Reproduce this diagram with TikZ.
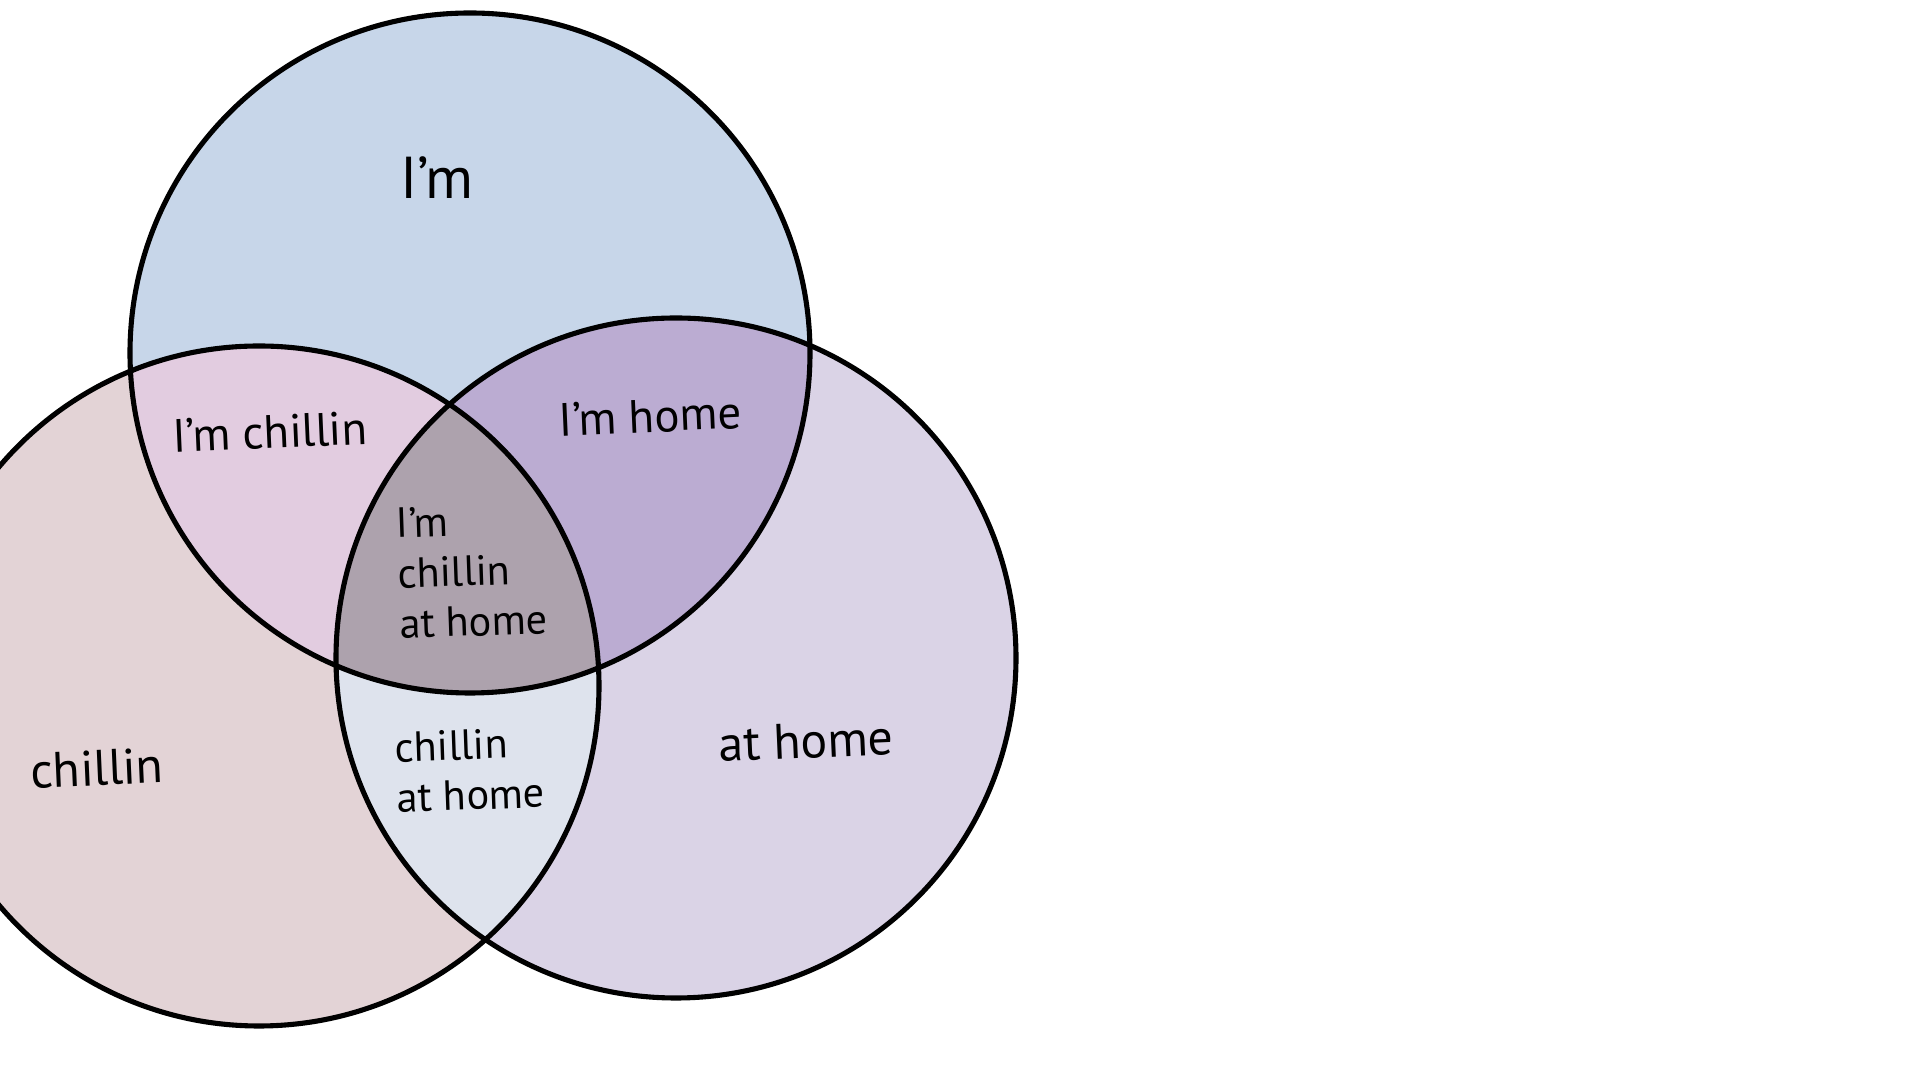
\documentclass[tikz,border=0pt]{standalone}
\usepackage{fontspec}
\setmainfont{PT Sans}
\definecolor{imfill}{HTML}{C7D6E9}
\definecolor{chillfill}{HTML}{E3D3D6}
\definecolor{homefill}{HTML}{DAD3E6}
\definecolor{imchillfill}{HTML}{E2CCE0}
\definecolor{imhomefill}{HTML}{BBACD2}
\definecolor{chillhomefill}{HTML}{DEE3ED}
\definecolor{allfill}{HTML}{ADA2AD}

\begin{document}
\begin{tikzpicture}[x=0.01cm,y=-0.01cm,
set/.style={draw=black,line width=1.45pt},
biglabel/.style={font=\fontsize{14.2}{17}\selectfont,rotate=2.5},
midlabel/.style={font=\fontsize{13.3}{16}\selectfont,rotate=2.5},
smalllabel/.style={font=\fontsize{12}{14.3}\selectfont,align=left,rotate=2}]
\useasboundingbox (0,0) rectangle (1920,1080);
\clip (0,0) rectangle (1920,1080);
\def\imset{(470,353) circle (340)}
\def\chillset{(259,686) circle (340)}
\def\homeset{(676,658) circle (340)}

\fill[imfill] \imset;
\fill[chillfill] \chillset;
\fill[homefill] \homeset;
\begin{scope}
\clip \imset;
\fill[imchillfill] \chillset;
\fill[imhomefill] \homeset;
\end{scope}
\begin{scope}
\clip \chillset;
\fill[chillhomefill] \homeset;
\end{scope}
\begin{scope}
\clip \imset;
\clip \chillset;
\fill[allfill] \homeset;
\end{scope}
\draw[set] \imset;
\draw[set] \chillset;
\draw[set] \homeset;

\node[font=\fontsize{16.8}{20}\selectfont] (im) at (437,178) {I’m};
\node[midlabel] (imchillin) at (270,432) {I’m chillin};
\node[midlabel] (imhome) at (650,416) {I’m home};
\node[smalllabel] (all) at (472,571) {I’m\\chillin\\at home};
\node[smalllabel] (chillinhome) at (470,770) {chillin\\at home};
\node[biglabel] (chillin) at (97,768) {chillin};
\node[biglabel] (athome) at (806,741) {at home};
\end{tikzpicture}
\end{document}
